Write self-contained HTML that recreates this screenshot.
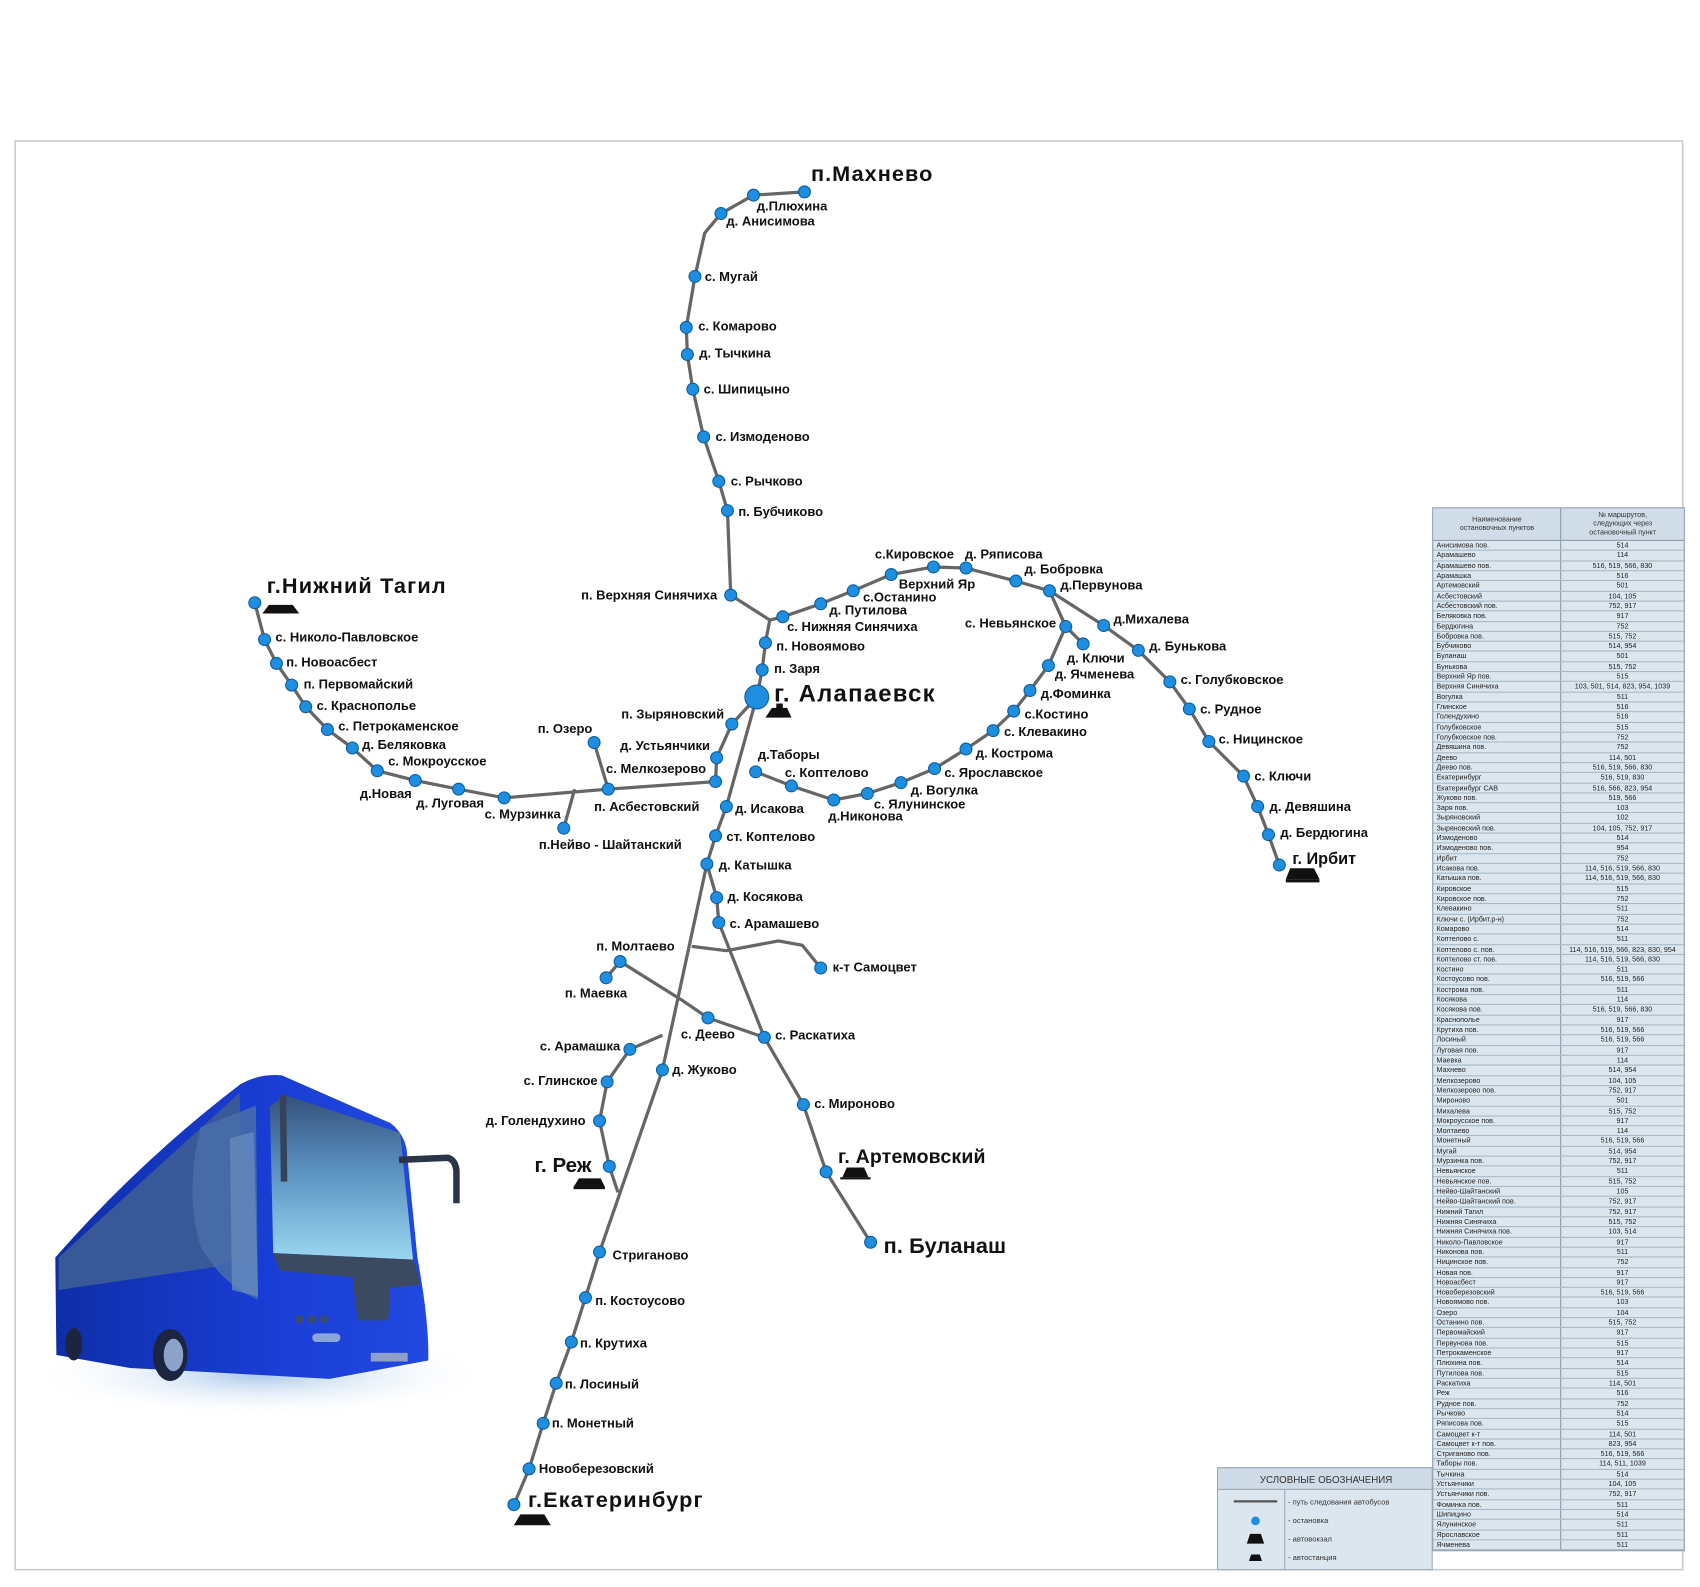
<!DOCTYPE html>
<html><head><meta charset="utf-8"><style>
html,body{margin:0;padding:0;background:#fff;width:1700px;height:1587px;overflow:hidden}
#w{position:absolute;left:0;top:0;width:1568px;height:1464px;transform:scale(1.08418,1.08402);transform-origin:0 0;font-family:"Liberation Sans",sans-serif}
svg{position:absolute;left:0;top:0}
.l{font:bold 12px "Liberation Sans",sans-serif;fill:#111}
.b{font:bold 20px "Liberation Sans",sans-serif;fill:#111}
#t{position:absolute;left:1321px;top:468px;width:231px;border:1px solid #8a9aa8;background:#dbe6ef;font-size:6.6px;color:#222}
#t .h{display:flex;height:29px;border-bottom:1px solid #8a9aa8;background:#d0dde8}
#t .h div{display:flex;align-items:center;justify-content:center;text-align:center;line-height:8px;color:#333}
#t .r{display:flex;height:9.32px;line-height:9.3px;border-bottom:1px solid #a9b8c4;box-sizing:border-box;white-space:nowrap}
#t .a{width:118px;border-right:1px solid #8a9aa8;padding-left:3px;box-sizing:border-box;overflow:hidden}
#t .c{width:113px;text-align:center;overflow:hidden}
</style></head><body><div id="w">
<svg width="1568" height="1464" viewBox="0 0 1568 1464">
<rect x="14" y="130" width="1538" height="1318" fill="none" stroke="#ccc" stroke-width="1.5"/>
<defs>
<linearGradient id="bg" x1="0" y1="0" x2="1" y2="0"><stop offset="0" stop-color="#0e2ea8"/><stop offset="0.6" stop-color="#1a3ed6"/><stop offset="1" stop-color="#2148e0"/></linearGradient>
<linearGradient id="ws" x1="0" y1="0" x2="0" y2="1"><stop offset="0" stop-color="#35507a"/><stop offset="0.45" stop-color="#5a90c0"/><stop offset="1" stop-color="#9ad6f0"/></linearGradient>
<radialGradient id="sh" cx="0.5" cy="0.5" r="0.5"><stop offset="0" stop-color="#a9c8ea"/><stop offset="1" stop-color="#ffffff" stop-opacity="0"/></radialGradient>
</defs>
<g fill="none" stroke="#666" stroke-width="3" stroke-linejoin="round">
<polyline points="674,549 671,471 663,444 649,403 639,359 634,327 633,302 641,255 650,215 665,197 695,180 742,177"/>
<polyline points="674,549 710,572 706,593 703,618 698,643"/>
<polyline points="710,572 722,569 757,557 787,545 822,530 861,523 891,524 937,536 968,545 1018,577 1050,600 1079,629 1097,654 1115,684 1147,716 1160,744 1170,770 1180,798"/>
<polyline points="968,545 983,578 999,594"/>
<polyline points="983,578 967,614 950,637 935,656 916,674 891,691 862,709 831,722 800,732 769,738 730,725 697,712"/>
<polyline points="698,643 675,668 661,699 660,721 561,728 465,736 423,728 383,720 348,711 325,690 302,673 282,652 269,632 255,612 244,590 235,556"/>
<polyline points="548,685 561,728"/><polyline points="520,764 530,728"/>
<polyline points="698,643 670,744 660,771 652,797 611,987 553,1155 540,1197 527,1238 513,1276 501,1313 488,1355 474,1388"/>
<polyline points="652,797 661,828 663,851 705,957 741,1019 762,1081 803,1146"/>
<polyline points="638,873 670,877 718,868 740,872 757,893"/>
<polyline points="559,902 572,887 628,922 653,939 705,957"/>
<polyline points="611,955 581,968 560,998 553,1034 562,1076 570,1100"/>
</g>
<g fill="#1e8fe0" stroke="#0d5b9c" stroke-width="1">
<circle cx="742" cy="177" r="5.5"/><circle cx="695" cy="180" r="5.5"/><circle cx="665" cy="197" r="5.5"/><circle cx="641" cy="255" r="5.5"/><circle cx="633" cy="302" r="5.5"/><circle cx="634" cy="327" r="5.5"/><circle cx="639" cy="359" r="5.5"/><circle cx="649" cy="403" r="5.5"/><circle cx="663" cy="444" r="5.5"/><circle cx="671" cy="471" r="5.5"/><circle cx="674" cy="549" r="5.5"/>
<circle cx="722" cy="569" r="5.5"/><circle cx="706" cy="593" r="5.5"/><circle cx="703" cy="618" r="5.5"/><circle cx="698" cy="643" r="11"/>
<circle cx="757" cy="557" r="5.5"/><circle cx="787" cy="545" r="5.5"/><circle cx="822" cy="530" r="5.5"/><circle cx="861" cy="523" r="5.5"/><circle cx="891" cy="524" r="5.5"/><circle cx="937" cy="536" r="5.5"/><circle cx="968" cy="545" r="5.5"/><circle cx="1018" cy="577" r="5.5"/><circle cx="1050" cy="600" r="5.5"/><circle cx="1079" cy="629" r="5.5"/><circle cx="1097" cy="654" r="5.5"/><circle cx="1115" cy="684" r="5.5"/><circle cx="1147" cy="716" r="5.5"/><circle cx="1160" cy="744" r="5.5"/><circle cx="1170" cy="770" r="5.5"/><circle cx="1180" cy="798" r="5.5"/>
<circle cx="983" cy="578" r="5.5"/><circle cx="999" cy="594" r="5.5"/><circle cx="967" cy="614" r="5.5"/><circle cx="950" cy="637" r="5.5"/><circle cx="935" cy="656" r="5.5"/><circle cx="916" cy="674" r="5.5"/><circle cx="891" cy="691" r="5.5"/><circle cx="862" cy="709" r="5.5"/><circle cx="831" cy="722" r="5.5"/><circle cx="800" cy="732" r="5.5"/><circle cx="769" cy="738" r="5.5"/><circle cx="730" cy="725" r="5.5"/><circle cx="697" cy="712" r="5.5"/>
<circle cx="675" cy="668" r="5.5"/><circle cx="661" cy="699" r="5.5"/><circle cx="660" cy="721" r="5.5"/><circle cx="561" cy="728" r="5.5"/><circle cx="548" cy="685" r="5.5"/><circle cx="520" cy="764" r="5.5"/><circle cx="465" cy="736" r="5.5"/><circle cx="423" cy="728" r="5.5"/><circle cx="383" cy="720" r="5.5"/><circle cx="348" cy="711" r="5.5"/><circle cx="325" cy="690" r="5.5"/><circle cx="302" cy="673" r="5.5"/><circle cx="282" cy="652" r="5.5"/><circle cx="269" cy="632" r="5.5"/><circle cx="255" cy="612" r="5.5"/><circle cx="244" cy="590" r="5.5"/><circle cx="235" cy="556" r="5.5"/>
<circle cx="670" cy="744" r="5.5"/><circle cx="660" cy="771" r="5.5"/><circle cx="652" cy="797" r="5.5"/><circle cx="661" cy="828" r="5.5"/><circle cx="663" cy="851" r="5.5"/><circle cx="757" cy="893" r="5.5"/><circle cx="572" cy="887" r="5.5"/><circle cx="559" cy="902" r="5.5"/><circle cx="653" cy="939" r="5.5"/><circle cx="705" cy="957" r="5.5"/><circle cx="581" cy="968" r="5.5"/><circle cx="611" cy="987" r="5.5"/><circle cx="560" cy="998" r="5.5"/><circle cx="553" cy="1034" r="5.5"/><circle cx="562" cy="1076" r="5.5"/><circle cx="741" cy="1019" r="5.5"/><circle cx="762" cy="1081" r="5.5"/><circle cx="803" cy="1146" r="5.5"/>
<circle cx="553" cy="1155" r="5.5"/><circle cx="540" cy="1197" r="5.5"/><circle cx="527" cy="1238" r="5.5"/><circle cx="513" cy="1276" r="5.5"/><circle cx="501" cy="1313" r="5.5"/><circle cx="488" cy="1355" r="5.5"/><circle cx="474" cy="1388" r="5.5"/>
</g>
<g fill="#111">
<polygon points="248,558 270,558 276,566 242,566"/>
<polygon points="712,653 726,653 730,662 706,662"/><rect x="716" y="649" width="6" height="5"/>
<polygon points="1190,801 1212,801 1217,811 1186,811"/><rect x="1186" y="811" width="31" height="3"/>
<polygon points="534,1087 554,1087 558,1095 529,1095"/><rect x="529" y="1095" width="29" height="2"/>
<polygon points="781,1077 797,1077 801,1086 777,1086"/><rect x="775" y="1086" width="28" height="2"/>
<polygon points="480,1397 502,1397 508,1407 474,1407"/>
</g>
<g class="l">
<text x="698" y="194">д.Плюхина</text><text x="670" y="208">д. Анисимова</text><text x="650" y="259">с. Мугай</text><text x="644" y="305">с. Комарово</text><text x="645" y="330">д. Тычкина</text><text x="649" y="363">с. Шипицыно</text><text x="660" y="407">с. Измоденово</text><text x="674" y="448">с. Рычково</text><text x="681" y="476">п. Бубчиково</text><text x="536" y="553">п. Верхняя Синячиха</text>
<text x="726" y="582">с. Нижняя Синячиха</text><text x="716" y="600">п. Новоямово</text><text x="714" y="621">п. Заря</text>
<text x="765" y="567">д. Путилова</text><text x="796" y="555">с.Останино</text><text x="829" y="543">Верхний Яр</text><text x="807" y="515">с.Кировское</text><text x="890" y="515">д. Ряписова</text><text x="945" y="529">д. Бобровка</text><text x="978" y="544">д.Первунова</text><text x="890" y="579">с. Невьянское</text><text x="1027" y="575">д.Михалева</text><text x="1060" y="600">д. Бунькова</text><text x="984" y="611">д. Ключи</text><text x="973" y="626">д. Ячменева</text><text x="960" y="644">д.Фоминка</text><text x="945" y="663">с.Костино</text><text x="926" y="679">с. Клевакино</text><text x="1089" y="631">с. Голубковское</text><text x="1107" y="658">с. Рудное</text><text x="1124" y="686">с. Ницинское</text><text x="1157" y="720">с. Ключи</text><text x="1171" y="748">д. Девяшина</text><text x="1181" y="772">д. Бердюгина</text>
<text x="900" y="699">д. Кострома</text><text x="871" y="717">с. Ярославское</text><text x="840" y="733">д. Вогулка</text><text x="806" y="746">с. Ялунинское</text><text x="764" y="757">д.Никонова</text><text x="724" y="717">с. Коптелово</text><text x="699" y="700">д.Таборы</text><text x="678" y="750">д. Исакова</text><text x="670" y="776">ст. Коптелово</text><text x="663" y="802">д. Катышка</text><text x="671" y="831">д. Косякова</text><text x="673" y="856">с. Арамашево</text><text x="768" y="896">к-т  Самоцвет</text>
<text x="550" y="877">п. Молтаево</text><text x="521" y="920">п. Маевка</text><text x="628" y="958">с. Деево</text><text x="715" y="959">с. Раскатиха</text><text x="498" y="969">с. Арамашка</text><text x="620" y="991">д. Жуково</text><text x="483" y="1001">с. Глинское</text><text x="448" y="1038">д. Голендухино</text><text x="751" y="1022">с. Мироново</text>
<text x="565" y="1162">Стриганово</text><text x="549" y="1204">п. Костоусово</text><text x="535" y="1243">п. Крутиха</text><text x="521" y="1281">п. Лосиный</text><text x="509" y="1317">п. Монетный</text><text x="497" y="1359">Новоберезовский</text>
<text x="573" y="663">п. Зыряновский</text><text x="496" y="676">п. Озеро</text><text x="572" y="692">д. Устьянчики</text><text x="559" y="713">с. Мелкозерово</text><text x="548" y="748">п. Асбестовский</text><text x="497" y="783">п.Нейво - Шайтанский</text><text x="447" y="755">с. Мурзинка</text><text x="384" y="745">д. Луговая</text><text x="332" y="736">д.Новая</text><text x="358" y="706">с. Мокроусское</text><text x="334" y="691">д. Беляковка</text><text x="312" y="674">с. Петрокаменское</text><text x="292" y="655">с. Краснополье</text><text x="280" y="635">п. Первомайский</text><text x="264" y="615">п. Новоасбест</text><text x="254" y="592">с. Николо-Павловское</text>
</g>
<g class="b">
<text x="748" y="167" textLength="112">п.Махнево</text><text x="714" y="647" textLength="148" style="font-size:22px">г. Алапаевск</text><text x="1192" y="797" style="font-size:15px">г. Ирбит</text><text x="493" y="1081" style="font-size:19px">г. Реж</text><text x="773" y="1073" style="font-size:18px" textLength="136">г. Артемовский</text><text x="815" y="1156" textLength="113">п. Буланаш</text><text x="487" y="1390" textLength="161">г.Екатеринбург</text><text x="246" y="547" textLength="165">г.Нижний  Тагил</text>
</g>
<!-- bus -->
<ellipse cx="240" cy="1268" rx="215" ry="40" fill="url(#sh)"/>
<path d="M51,1160 Q130,1070 222,1000 Q240,990 260,992 L360,1036 Q372,1045 375,1060 L385,1160 Q396,1220 395,1255 L304,1272 L197,1266 L120,1262 L52,1250 Z" fill="url(#bg)"/>
<path d="M54,1160 L221,1008 L225,1160 L197,1169 L54,1190 Z" fill="#3d5d95" opacity="0.9"/>
<path d="M185,1040 Q170,1100 185,1150 Q205,1185 238,1199 L236,1020 Z" fill="#4a6fa8" opacity="0.85"/>
<path d="M212,1050 L234,1044 L238,1196 L214,1190 Z" fill="#6b8fc0" opacity="0.7"/>
<path d="M249,1021 L262,1010 L369,1045 L381,1162 L252,1156 Z" fill="url(#ws)"/>
<path d="M252,1156 L381,1162 L388,1185 L360,1188 L358,1218 L330,1218 L325,1178 L258,1172 Z" fill="#3b4a60"/>
<path d="M261,1010 L262,1090" stroke="#34425a" stroke-width="6"/>
<path d="M368,1070 L413,1068 Q420,1070 421,1080 L421,1110" fill="none" stroke="#2b3548" stroke-width="6"/>
<rect x="288" y="1230" width="26" height="8" rx="4" fill="#8aa6d8"/>
<circle cx="276" cy="1217" r="4" fill="#3a4a70"/><circle cx="288" cy="1217" r="4" fill="#3a4a70"/><circle cx="299" cy="1217" r="4" fill="#3a4a70"/>
<rect x="342" y="1248" width="34" height="8" fill="#8fa0c8"/>
<ellipse cx="157" cy="1250" rx="16" ry="24" fill="#1c2540"/><ellipse cx="160" cy="1250" rx="9" ry="15" fill="#8da2c8"/>
<ellipse cx="68" cy="1240" rx="8" ry="15" fill="#1c2540"/>
<!-- legend -->
<rect x="1123" y="1354" width="198" height="94" fill="#dbe6ef" stroke="#9aaab8"/>
<rect x="1123" y="1354" width="198" height="20" fill="#cfdce8" stroke="#9aaab8"/>
<line x1="1123" y1="1374" x2="1321" y2="1374" stroke="#9aaab8"/><line x1="1185" y1="1374" x2="1185" y2="1448" stroke="#9aaab8"/>
<text x="1162" y="1368" style="font:9px 'Liberation Sans',sans-serif" fill="#333">УСЛОВНЫЕ ОБОЗНАЧЕНИЯ</text>
<line x1="1138" y1="1385" x2="1178" y2="1385" stroke="#555" stroke-width="2"/>
<circle cx="1158" cy="1403" r="4" fill="#1e8fe0"/>
<polygon points="1153,1415 1163,1415 1166,1424 1150,1424" fill="#111"/>
<polygon points="1154,1434 1162,1434 1164,1440 1152,1440" fill="#111"/>
<g style="font:7px 'Liberation Sans',sans-serif" fill="#333"><text x="1188" y="1388">- путь следования автобусов</text><text x="1188" y="1405">- остановка</text><text x="1188" y="1422">- автовокзал</text><text x="1188" y="1439">- автостанция</text></g>
</svg>
<div id="t">
<div class="h"><div style="width:118px;border-right:1px solid #8a9aa8">Наименование<br>остановочных пунктов</div><div style="width:113px">№ маршрутов,<br>следующих через<br>остановочный пункт</div></div>
<div class="r"><span class="a">Анисимова пов.</span><span class="c">514</span></div>
<div class="r"><span class="a">Арамашево</span><span class="c">114</span></div>
<div class="r"><span class="a">Арамашево пов.</span><span class="c">516, 519, 566, 830</span></div>
<div class="r"><span class="a">Арамашка</span><span class="c">516</span></div>
<div class="r"><span class="a">Артемовский</span><span class="c">501</span></div>
<div class="r"><span class="a">Асбестовский</span><span class="c">104, 105</span></div>
<div class="r"><span class="a">Асбестовский пов.</span><span class="c">752, 917</span></div>
<div class="r"><span class="a">Беляковка пов.</span><span class="c">917</span></div>
<div class="r"><span class="a">Бердюгина</span><span class="c">752</span></div>
<div class="r"><span class="a">Бобровка пов.</span><span class="c">515, 752</span></div>
<div class="r"><span class="a">Бубчиково</span><span class="c">514, 954</span></div>
<div class="r"><span class="a">Буланаш</span><span class="c">501</span></div>
<div class="r"><span class="a">Бунькова</span><span class="c">515, 752</span></div>
<div class="r"><span class="a">Верхний Яр пов.</span><span class="c">515</span></div>
<div class="r"><span class="a">Верхняя Синячиха</span><span class="c">103, 501, 514, 823, 954, 1039</span></div>
<div class="r"><span class="a">Вогулка</span><span class="c">511</span></div>
<div class="r"><span class="a">Глинское</span><span class="c">516</span></div>
<div class="r"><span class="a">Голендухино</span><span class="c">516</span></div>
<div class="r"><span class="a">Голубковское</span><span class="c">515</span></div>
<div class="r"><span class="a">Голубковское пов.</span><span class="c">752</span></div>
<div class="r"><span class="a">Девяшина пов.</span><span class="c">752</span></div>
<div class="r"><span class="a">Деево</span><span class="c">114, 501</span></div>
<div class="r"><span class="a">Деево пов.</span><span class="c">516, 519, 566, 830</span></div>
<div class="r"><span class="a">Екатеринбург</span><span class="c">516, 519, 830</span></div>
<div class="r"><span class="a">Екатеринбург САВ</span><span class="c">516, 566, 823, 954</span></div>
<div class="r"><span class="a">Жуково пов.</span><span class="c">519, 566</span></div>
<div class="r"><span class="a">Заря пов.</span><span class="c">103</span></div>
<div class="r"><span class="a">Зыряновский</span><span class="c">102</span></div>
<div class="r"><span class="a">Зыряновский пов.</span><span class="c">104, 105, 752, 917</span></div>
<div class="r"><span class="a">Измоденово</span><span class="c">514</span></div>
<div class="r"><span class="a">Измоденово пов.</span><span class="c">954</span></div>
<div class="r"><span class="a">Ирбит</span><span class="c">752</span></div>
<div class="r"><span class="a">Исакова пов.</span><span class="c">114, 516, 519, 566, 830</span></div>
<div class="r"><span class="a">Катышка пов.</span><span class="c">114, 516, 519, 566, 830</span></div>
<div class="r"><span class="a">Кировское</span><span class="c">515</span></div>
<div class="r"><span class="a">Кировское пов.</span><span class="c">752</span></div>
<div class="r"><span class="a">Клевакино</span><span class="c">511</span></div>
<div class="r"><span class="a">Ключи с. (Ирбит.р-н)</span><span class="c">752</span></div>
<div class="r"><span class="a">Комарово</span><span class="c">514</span></div>
<div class="r"><span class="a">Коптелово с.</span><span class="c">511</span></div>
<div class="r"><span class="a">Коптелово с. пов.</span><span class="c">114, 516, 519, 566, 823, 830, 954</span></div>
<div class="r"><span class="a">Коптелово ст. пов.</span><span class="c">114, 516, 519, 566, 830</span></div>
<div class="r"><span class="a">Костино</span><span class="c">511</span></div>
<div class="r"><span class="a">Костоусово пов.</span><span class="c">516, 519, 566</span></div>
<div class="r"><span class="a">Кострома пов.</span><span class="c">511</span></div>
<div class="r"><span class="a">Косякова</span><span class="c">114</span></div>
<div class="r"><span class="a">Косякова пов.</span><span class="c">516, 519, 566, 830</span></div>
<div class="r"><span class="a">Краснополье</span><span class="c">917</span></div>
<div class="r"><span class="a">Крутиха пов.</span><span class="c">516, 519, 566</span></div>
<div class="r"><span class="a">Лосиный</span><span class="c">516, 519, 566</span></div>
<div class="r"><span class="a">Луговая пов.</span><span class="c">917</span></div>
<div class="r"><span class="a">Маевка</span><span class="c">114</span></div>
<div class="r"><span class="a">Махнево</span><span class="c">514, 954</span></div>
<div class="r"><span class="a">Мелкозерово</span><span class="c">104, 105</span></div>
<div class="r"><span class="a">Мелкозерово пов.</span><span class="c">752, 917</span></div>
<div class="r"><span class="a">Мироново</span><span class="c">501</span></div>
<div class="r"><span class="a">Михалева</span><span class="c">515, 752</span></div>
<div class="r"><span class="a">Мокроусское пов.</span><span class="c">917</span></div>
<div class="r"><span class="a">Молтаево</span><span class="c">114</span></div>
<div class="r"><span class="a">Монетный</span><span class="c">516, 519, 566</span></div>
<div class="r"><span class="a">Мугай</span><span class="c">514, 954</span></div>
<div class="r"><span class="a">Мурзинка пов.</span><span class="c">752, 917</span></div>
<div class="r"><span class="a">Невьянское</span><span class="c">511</span></div>
<div class="r"><span class="a">Невьянское пов.</span><span class="c">515, 752</span></div>
<div class="r"><span class="a">Нейво-Шайтанский</span><span class="c">105</span></div>
<div class="r"><span class="a">Нейво-Шайтанский пов.</span><span class="c">752, 917</span></div>
<div class="r"><span class="a">Нижний Тагил</span><span class="c">752, 917</span></div>
<div class="r"><span class="a">Нижняя Синячиха</span><span class="c">515, 752</span></div>
<div class="r"><span class="a">Нижняя Синячиха пов.</span><span class="c">103, 514</span></div>
<div class="r"><span class="a">Николо-Павловское</span><span class="c">917</span></div>
<div class="r"><span class="a">Никонова пов.</span><span class="c">511</span></div>
<div class="r"><span class="a">Ницинское пов.</span><span class="c">752</span></div>
<div class="r"><span class="a">Новая пов.</span><span class="c">917</span></div>
<div class="r"><span class="a">Новоасбест</span><span class="c">917</span></div>
<div class="r"><span class="a">Новоберезовский</span><span class="c">516, 519, 566</span></div>
<div class="r"><span class="a">Новоямово пов.</span><span class="c">103</span></div>
<div class="r"><span class="a">Озеро</span><span class="c">104</span></div>
<div class="r"><span class="a">Останино пов.</span><span class="c">515, 752</span></div>
<div class="r"><span class="a">Первомайский</span><span class="c">917</span></div>
<div class="r"><span class="a">Первунова пов.</span><span class="c">515</span></div>
<div class="r"><span class="a">Петрокаменское</span><span class="c">917</span></div>
<div class="r"><span class="a">Плюхина пов.</span><span class="c">514</span></div>
<div class="r"><span class="a">Путилова пов.</span><span class="c">515</span></div>
<div class="r"><span class="a">Раскатиха</span><span class="c">114, 501</span></div>
<div class="r"><span class="a">Реж</span><span class="c">516</span></div>
<div class="r"><span class="a">Рудное пов.</span><span class="c">752</span></div>
<div class="r"><span class="a">Рычково</span><span class="c">514</span></div>
<div class="r"><span class="a">Ряписова пов.</span><span class="c">515</span></div>
<div class="r"><span class="a">Самоцвет к-т</span><span class="c">114, 501</span></div>
<div class="r"><span class="a">Самоцвет к-т пов.</span><span class="c">823, 954</span></div>
<div class="r"><span class="a">Стриганово пов.</span><span class="c">516, 519, 566</span></div>
<div class="r"><span class="a">Таборы пов.</span><span class="c">114, 511, 1039</span></div>
<div class="r"><span class="a">Тычкина</span><span class="c">514</span></div>
<div class="r"><span class="a">Устьянчики</span><span class="c">104, 105</span></div>
<div class="r"><span class="a">Устьянчики пов.</span><span class="c">752, 917</span></div>
<div class="r"><span class="a">Фоминка пов.</span><span class="c">511</span></div>
<div class="r"><span class="a">Шипицино</span><span class="c">514</span></div>
<div class="r"><span class="a">Ялунинское</span><span class="c">511</span></div>
<div class="r"><span class="a">Ярославское</span><span class="c">511</span></div>
<div class="r"><span class="a">Ячменева</span><span class="c">511</span></div>
</div>
</div></body></html>
